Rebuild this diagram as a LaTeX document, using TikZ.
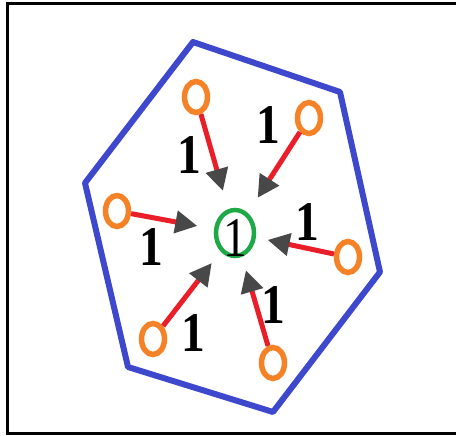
\documentclass[tikz,border=0pt]{standalone}
\usepackage{fontspec}
\setmainfont{Liberation Serif}
\usetikzlibrary{arrows.meta, shapes.geometric}

\definecolor{hexblue}{RGB}{62,72,204}
\definecolor{srcorange}{RGB}{246,130,40}
\definecolor{hubgreen}{RGB}{30,168,70}
\definecolor{linkred}{RGB}{234,30,40}
\definecolor{tipgray}{RGB}{72,72,72}

% digits in the scan are a little taller than wide
\newcommand{\tallnum}[1]{\scalebox{0.95}[1.12]{#1}}

\begin{document}
\begin{tikzpicture}[
    x=1pt, y=-1pt,
    % Node styles
    source/.style={
        draw=srcorange, ellipse, line width=5.5pt, inner sep=0pt,
        minimum width=23pt, minimum height=31pt
    },
    hub/.style={
        draw=hubgreen, ellipse, line width=4.5pt, inner sep=0pt,
        minimum width=38pt, minimum height=46pt,
        font=\fontsize{50}{50}\selectfont
    },
    weight/.style={
        font=\fontsize{50}{50}\selectfont\bfseries, inner sep=0pt
    },
    % Edge style
    feed/.style={
        draw=linkred, line width=5pt,
        -{Triangle[length=22pt, width=22pt, color=tipgray]}
    },
    % Outline styles
    hexline/.style={draw=hexblue, line width=6pt, line join=round},
    frame/.style={draw=black, line width=3pt},
]
\useasboundingbox (0,0) rectangle (456,436);

% ===== FRAME (open on the right) =====
\draw[frame] (456,3.5) -- (7.5,3.5) -- (7.5,433.5) -- (456,433.5);

% ===== HEXAGON =====
\draw[hexline] (193,42) -- (340,92) -- (380,272) -- (273,412)
    -- (128,367) -- (85,183) -- cycle;

% ===== CENTRE NODE =====
\node[hub] (hub) at (235,233) {};
\node[font=\fontsize{50}{50}\selectfont, inner sep=0pt] (hub-label)
    at (235,238) {\tallnum{1}};

% ===== SOURCE NODES =====
\node[source] (src-nw) at (196,97) {};
\node[source] (src-ne) at (309,118) {};
\node[source] (src-w)  at (117,211) {};
\node[source] (src-e)  at (348,257) {};
\node[source] (src-sw) at (153,339) {};
\node[source] (src-se) at (273,363) {};

% ===== LINKS into the centre =====
\draw[feed, shorten >=19pt]   (src-nw) -- (hub);
\draw[feed, shorten >=18pt]   (src-ne) -- (hub);
\draw[feed, shorten >=17pt]   (src-w)  -- (hub);
\draw[feed, shorten >=12pt]   (src-e)  -- (hub);
\draw[feed, shorten >=14.5pt] (src-sw) -- (hub);
\draw[feed, shorten >=14pt]   (src-se) -- (hub);

% Weights
\node[weight] (w-nw) at (189,155) {\tallnum{1}};
\node[weight] (w-ne) at (268,125) {\tallnum{1}};
\node[weight] (w-w)  at (151,247) {\tallnum{1}};
\node[weight] (w-e)  at (307,222) {\tallnum{1}};
\node[weight] (w-sw) at (193,333) {\tallnum{1}};
\node[weight] (w-se) at (273,305) {\tallnum{1}};

\end{tikzpicture}
\end{document}
